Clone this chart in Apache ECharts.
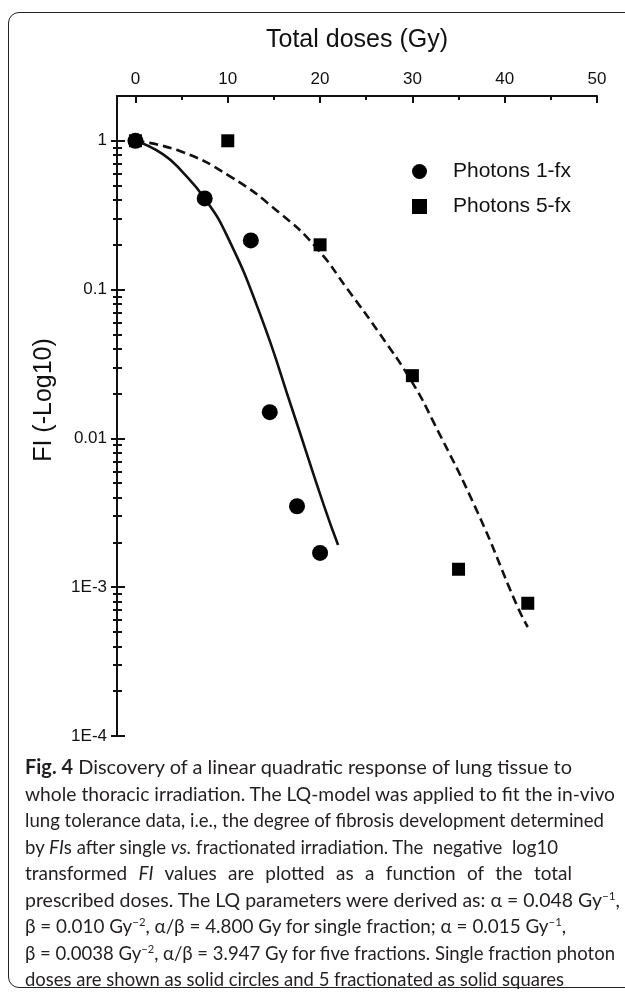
<!DOCTYPE html>
<html>
<head>
<meta charset="utf-8">
<script src="https://cdn.jsdelivr.net/npm/echarts@6/dist/echarts.min.js"></script>
<style>
  html, body { margin: 0; padding: 0; background: #fff; }
  #wrap { position: relative; width: 625px; height: 1000px; overflow: hidden; }
  #frame { position: absolute; left: 8px; top: 12px; width: 660px; height: 976px;
           border: 1.5px solid #222; border-radius: 11px; box-sizing: border-box; }
  #chart { position: absolute; left: 0; top: 0; width: 625px; height: 760px; }
  #cap { position: absolute; left: 25px; top: 753px; font-family: Lato, 'Noto Sans', sans-serif;
         font-size: 20px; line-height: 26.5px; color: #231f20; white-space: nowrap; }
  #cap .ln span { display: inline-block; transform-origin: 0 0; }
  sup { font-size: 12px; line-height: 0; vertical-align: 7px; }
</style>
</head>
<body>
<div id="wrap">
  <div id="frame"></div>
  <div id="chart"></div>
  <div id="cap">
    <div class="ln"><span data-end="572"><b>Fig. 4</b> Discovery of a linear quadratic response of lung tissue to</span></div>
    <div class="ln"><span data-end="615">whole thoracic irradiation. The LQ-model was applied to fit the in-vivo</span></div>
    <div class="ln"><span data-end="604">lung tolerance data, i.e., the degree of fibrosis development determined</span></div>
    <div class="ln"><span data-end="558">by <i>FI</i>s after single <i>vs.</i> fractionated irradiation. The&nbsp; negative&nbsp; log10</span></div>
    <div class="ln"><span data-end="572" data-spread="1">transformed <i>FI</i> values are plotted as a function of the total</span></div>
    <div class="ln"><span data-end="620">prescribed doses. The LQ parameters were derived as: α = 0.048 Gy<sup>−1</sup>,</span></div>
    <div class="ln"><span data-end="566">β = 0.010 Gy<sup>−2</sup>, α/β = 4.800 Gy for single fraction; α = 0.015 Gy<sup>−1</sup>,</span></div>
    <div class="ln"><span data-end="615">β = 0.0038 Gy<sup>−2</sup>, α/β = 3.947 Gy for five fractions. Single fraction photon</span></div>
    <div class="ln"><span data-end="564">doses are shown as solid circles and 5 fractionated as solid squares</span></div>
  </div>
</div>
<script>
// measured points (total dose in Gy, FI)
const dose1fx = [0, 7.5, 12.5, 14.55, 17.5, 20];
const fi1fx = [1, 0.41, 0.214, 0.015, 0.0035, 0.0017];
const dose5fx = [0, 10, 20, 30, 35, 42.5];
const fi5fx = [1, 1, 0.2, 0.0264, 0.00132, 0.00078];

// LQ fit curves
const fitDose1 = [0, 3.0, 5.16, 7.5, 9.86, 13.47, 17.07, 20.4, 21.95];
const fitFi1 = [1, 0.811, 0.611, 0.41, 0.234, 0.0692, 0.0151, 0.00356, 0.00192];
const fitDose5 = [0, 4.8, 10.2, 15.6, 19.6, 23.0, 26.5, 30.0, 32.2, 37.1, 41.4, 42.5];
const fitFi5 = [1, 0.853, 0.579, 0.328, 0.191, 0.100, 0.0501, 0.0237, 0.0132, 0.00315, 0.000736, 0.00054];

// axes
const xTicks = [0, 10, 20, 30, 40, 50];
const xMinorTicks = [5, 15, 25, 35, 45];
const yTicks = [0.0001, 0.001, 0.01, 0.1, 1];
const yTickLabels = ['1E-4', '1E-3', '0.01', '0.1', '1'];
const yMinorTicks = [];
[-4, -3, -2, -1].forEach(e => {
  for (let k = 2; k <= 9; k++) yMinorTicks.push(Number((k * Math.pow(10, e)).toPrecision(3)));
});

const pairs = (xs, ys) => xs.map((x, i) => [x, ys[i]]);
const FONT = "'Liberation Sans', Arial, sans-serif";
const INK = '#111';

const yLabel = v => {
  let best = 0;
  yTicks.forEach((t, i) => {
    if (Math.abs(Math.log10(v) - Math.log10(t)) < Math.abs(Math.log10(v) - Math.log10(yTicks[best]))) best = i;
  });
  return yTickLabels[best];
};

const tickStyle = { color: INK, width: 2 };
const yBase = { type: 'log', logBase: 10, min: 0.0001, max: 2, position: 'left', offset: 0, gridIndex: 0,
  splitLine: { show: false }, minorTick: { show: false } };
const yTickAxis = (values, inside, length) => Object.assign({}, yBase, {
  axisLine: { show: false, onZero: false }, axisLabel: { show: false },
  axisTick: { show: true, inside: inside, length: length, customValues: values, lineStyle: tickStyle }
});

const chart = echarts.init(document.getElementById('chart'));
chart.setOption({
  animation: false,
  grid: { left: 117, top: 96, width: 480, height: 640 },
  legend: {
    orient: 'vertical', left: 412, top: 161, padding: 0,
    itemWidth: 15, itemHeight: 15, itemGap: 14,
    data: [
      { name: 'Photons 1-fx', icon: 'circle' },
      { name: 'Photons 5-fx', icon: 'path://M0 0H10V10H0Z' }
    ],
    textStyle: { fontFamily: FONT, fontSize: 21, color: INK, lineHeight: 21, padding: [0, 0, 0, 21] }
  },
  xAxis: [
    { type: 'value', position: 'top', min: -2, max: 50,
      name: 'Total doses (Gy)', nameLocation: 'middle', nameGap: 43,
      nameTextStyle: { fontFamily: FONT, fontSize: 25, color: INK },
      axisLine: { show: true, onZero: false, lineStyle: { color: INK, width: 2 } },
      axisTick: { show: true, inside: true, length: 7, customValues: xTicks, lineStyle: tickStyle },
      axisLabel: { show: true, customValues: xTicks, margin: 8, fontFamily: FONT, fontSize: 17, color: INK },
      splitLine: { show: false } },
    { type: 'value', position: 'top', offset: 0, min: -2, max: 50,
      axisLine: { show: false, onZero: false },
      axisTick: { show: true, inside: true, length: 4, customValues: xMinorTicks, lineStyle: tickStyle },
      axisLabel: { show: false },
      splitLine: { show: false } }
  ],
  yAxis: [
    Object.assign({}, yBase, {
      name: 'FI (-Log10)', nameLocation: 'middle', nameGap: 60, nameRotate: 90,
      nameTextStyle: { fontFamily: FONT, fontSize: 25, color: INK, padding: [0, 0, 0, 32] },
      axisLine: { show: true, onZero: false, lineStyle: { color: INK, width: 2 } },
      axisTick: { show: true, inside: false, length: 6, customValues: yTicks, lineStyle: tickStyle },
      axisLabel: { show: true, customValues: yTicks, margin: 10, fontFamily: FONT, fontSize: 17, color: INK, formatter: yLabel }
    }),
    yTickAxis(yTicks, true, 8),
    yTickAxis(yMinorTicks, false, 4),
    yTickAxis(yMinorTicks, true, 5)
  ],
  series: [
    { name: 'fit 1-fx', type: 'line', data: pairs(fitDose1, fitFi1), smooth: true, showSymbol: false,
      lineStyle: { color: INK, width: 2.6 }, z: 2 },
    { name: 'fit 5-fx', type: 'line', data: pairs(fitDose5, fitFi5), smooth: true, showSymbol: false,
      lineStyle: { color: INK, width: 2.6, type: [9, 5] }, z: 2 },
    { name: 'Photons 1-fx', type: 'scatter', data: pairs(dose1fx, fi1fx), symbol: 'circle', symbolSize: 16,
      itemStyle: { color: '#000', opacity: 1 }, z: 3 },
    { name: 'Photons 5-fx', type: 'scatter', data: pairs(dose5fx, fi5fx), symbol: 'rect', symbolSize: 13,
      itemStyle: { color: '#000', opacity: 1 }, z: 3 }
  ]
});

// caption: squeeze each line so it ends where the printed line ends
const spans = Array.from(document.querySelectorAll('#cap .ln span'));
const scales = spans.map(sp => (Number(sp.dataset.end) - 25) / sp.getBoundingClientRect().width);
const plain = scales.filter((s, i) => !spans[i].dataset.spread);
const avg = plain.reduce((a, b) => a + b, 0) / plain.length;
spans.forEach((sp, i) => {
  let s = scales[i];
  if (sp.dataset.spread) {
    s = avg;
    sp.style.width = ((Number(sp.dataset.end) - 25) / s) + 'px';
    sp.style.textAlign = 'justify';
    sp.style.textAlignLast = 'justify';
  }
  sp.style.transform = 'scaleX(' + s + ')';
});
</script>
</body>
</html>
